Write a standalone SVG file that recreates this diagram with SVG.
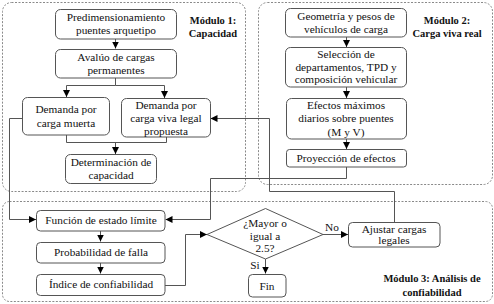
<svg xmlns="http://www.w3.org/2000/svg" width="494" height="304" viewBox="0 0 494 304">
<defs>
<style>
.mod{fill:none;stroke:#8a8a8a;stroke-width:1;stroke-dasharray:2,1.5}
.box{fill:#fff;stroke:#555;stroke-width:1}
.t{font-family:"Liberation Serif","DejaVu Serif",serif;font-size:11.3px;fill:#111;text-anchor:middle}
.b{font-family:"Liberation Serif","DejaVu Serif",serif;font-size:10.5px;font-weight:bold;fill:#111;text-anchor:middle}
.c{fill:none;stroke:#555;stroke-width:1}
</style>
<marker id="ah" viewBox="0 0 8 8" refX="8" refY="4" markerWidth="7" markerHeight="7" orient="auto" markerUnits="userSpaceOnUse">
<path d="M0,0 L8,4 L0,8 z" fill="#000"/>
</marker>
</defs>
<rect width="494" height="304" fill="#fff"/>
<g id="modules">
<rect class="mod" x="2.5" y="2.5" width="243" height="189" rx="9"/>
<rect class="mod" x="258.5" y="2.5" width="234" height="182" rx="9"/>
<rect class="mod" x="2.5" y="201.5" width="490" height="100" rx="7"/>
<text class="b" x="213" y="24">Módulo 1:</text>
<text class="b" x="213" y="37">Capacidad</text>
<text class="b" x="447" y="24">Módulo 2:</text>
<text class="b" x="447" y="37">Carga viva real</text>
<text class="b" x="432" y="282">Módulo 3: Análisis de</text>
<text class="b" x="432" y="296">confiabilidad</text>
</g>
<g id="connectors">
<path class="c" d="M115.5,39 V48.5" marker-end="url(#ah)"/>
<path class="c" d="M115.5,78 V85.5 H66.5 V97" marker-end="url(#ah)"/>
<path class="c" d="M115.5,85.5 H164.5 V98" marker-end="url(#ah)"/>
<path class="c" d="M66.5,135 V142.5 H166.5 V137"/>
<path class="c" d="M115.5,142.5 V154" marker-end="url(#ah)"/>
<path class="c" d="M346.5,37 V47" marker-end="url(#ah)"/>
<path class="c" d="M346.5,87 V98" marker-end="url(#ah)"/>
<path class="c" d="M346.5,139 V149" marker-end="url(#ah)"/>
<path class="c" d="M346.5,167 V178.5 H210.5 V219.5 H165.5" marker-end="url(#ah)"/>
<path class="c" d="M22,118.5 H9.5 V219.5 H36" marker-end="url(#ah)"/>
<path class="c" d="M100.5,231 V241.5" marker-end="url(#ah)"/>
<path class="c" d="M100.5,263 V273.5" marker-end="url(#ah)"/>
<path class="c" d="M165,285.5 H185.5 V234.5 H207" marker-end="url(#ah)"/>
<path class="c" d="M323,234.5 H348" marker-end="url(#ah)"/>
<path class="c" d="M265.5,259 V273.5" marker-end="url(#ah)"/>
<path class="c" d="M394.5,222 V191.5 H269.5 V118.5 H210.5" marker-end="url(#ah)"/>
<text class="t" x="332" y="231">No</text>
<text class="t" x="255" y="269">Si</text>
</g>
<g id="n1"><rect class="box" x="55.5" y="9.5" width="121" height="29.5" rx="5"/><text class="t" x="116" y="21">Predimensionamiento</text><text class="t" x="116" y="34">puentes arquetipo</text></g>
<g id="n2"><rect class="box" x="55.5" y="49.5" width="121" height="28.5" rx="5"/><text class="t" x="116" y="61">Avalúo de cargas</text><text class="t" x="116" y="74">permanentes</text></g>
<g id="n3"><rect class="box" x="22.5" y="97.5" width="87" height="37.5" rx="5"/><text class="t" x="66" y="113">Demanda por</text><text class="t" x="66" y="127">carga muerta</text></g>
<g id="n4"><rect class="box" x="121.5" y="98.5" width="89" height="38.5" rx="5"/><text class="t" x="166" y="109">Demanda por</text><text class="t" x="166" y="122">carga viva legal</text><text class="t" x="166" y="135">propuesta</text></g>
<g id="n5"><rect class="box" x="65.5" y="154.5" width="91" height="29" rx="5"/><text class="t" x="111" y="166">Determinación de</text><text class="t" x="111" y="179">capacidad</text></g>
<g id="n6"><rect class="box" x="285.5" y="8.5" width="121" height="28.5" rx="5"/><text class="t" x="346" y="20">Geometría y pesos de</text><text class="t" x="346" y="33">vehículos de carga</text></g>
<g id="n7"><rect class="box" x="285.5" y="47.5" width="121" height="39.5" rx="5"/><text class="t" x="346" y="58">Selección de</text><text class="t" x="346" y="71">departamentos, TPD y</text><text class="t" x="346" y="83">composición vehicular</text></g>
<g id="n8"><rect class="box" x="286.5" y="98.5" width="120" height="40.5" rx="5"/><text class="t" x="346" y="109">Efectos máximos</text><text class="t" x="346" y="122">diarios sobre puentes</text><text class="t" x="346" y="136">(M y V)</text></g>
<g id="n9"><rect class="box" x="286.5" y="149.5" width="120" height="17.5" rx="3"/><text class="t" x="346" y="162">Proyección de efectos</text></g>
<g id="n10"><rect class="box" x="36.5" y="210.5" width="128.5" height="20.5" rx="4"/><text class="t" x="101" y="224">Función de estado límite</text></g>
<g id="n11"><rect class="box" x="36.5" y="242.5" width="128.5" height="20.5" rx="4"/><text class="t" x="101" y="256">Probabilidad de falla</text></g>
<g id="n12"><rect class="box" x="36.5" y="274.5" width="128.5" height="21" rx="4"/><text class="t" x="101" y="288">Índice de confiabilidad</text></g>
<g id="n13"><polygon class="box" points="207,234.5 265.5,208.5 323,234.5 265.5,259"/><text class="t" x="265" y="227">¿Mayor o</text><text class="t" x="265" y="240">igual a</text><text class="t" x="265" y="252">2.5?</text></g>
<g id="n14"><rect class="box" x="348.5" y="222.5" width="91.5" height="24.5" rx="4"/><text class="t" x="394" y="233">Ajustar cargas</text><text class="t" x="394" y="244">legales</text></g>
<g id="n15"><rect class="box" x="248.5" y="274.5" width="37.5" height="22.5" rx="4"/><text class="t" x="267" y="290">Fin</text></g>
</svg>
